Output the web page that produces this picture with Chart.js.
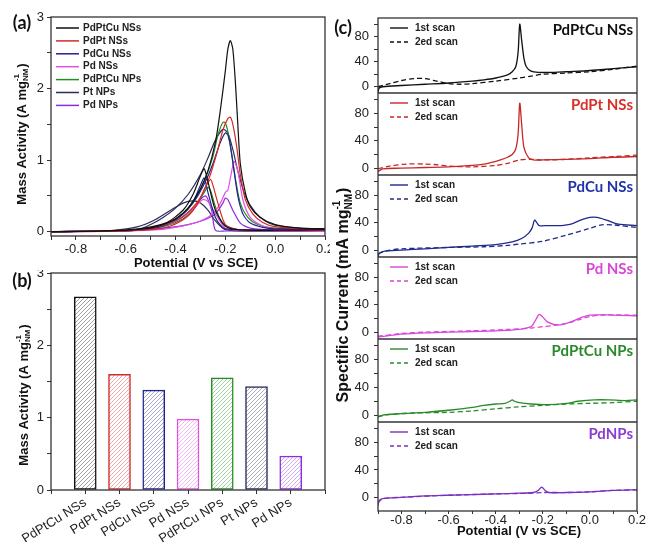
<!DOCTYPE html>
<html>
<head>
<meta charset="utf-8">
<script src="https://cdn.jsdelivr.net/npm/chart.js@4.4.1/dist/chart.umd.min.js"></script>
<style>
  html, body { margin: 0; padding: 0; background: #fff; }
  body { width: 646px; height: 542px; position: relative; overflow: hidden; }
  canvas { position: absolute; }
  #ca { left: 0; top: 0; }
  #cb { left: 0; top: 270px; }
  #cc { left: 330px; top: 0; }
</style>
</head>
<body>
<canvas id="ca" width="330" height="270"></canvas>
<canvas id="cb" width="330" height="272"></canvas>
<canvas id="cc" width="316" height="542"></canvas>
<script>
// ---------- panel (a): CV loops, [potential (V vs SCE), mass activity (A/mg)]
const seriesNames = ['PdPtCu NSs', 'PdPt NSs', 'PdCu NSs', 'Pd NSs', 'PdPtCu NPs', 'Pt NPs', 'Pd NPs'];
const seriesColors = ['#111111', '#d42a2a', '#22228e', '#e052e0', '#1f8f1f', '#2c2c5c', '#8a2be2'];

const pdptcuNSsFwd = [[-0.9,0],[-0.7,0.01],[-0.6,0.02],[-0.5,0.05],[-0.45,0.1],[-0.4,0.18],[-0.35,0.33],[-0.3,0.6],[-0.27,0.85],[-0.24,1.25],[-0.22,1.7],[-0.2,2.25],[-0.19,2.55],[-0.18,2.67],[-0.17,2.55],[-0.16,2.1],[-0.15,1.5],[-0.14,0.95],[-0.12,0.55],[-0.1,0.35],[-0.06,0.2],[0,0.1],[0.1,0.05],[0.2,0.04]];
const pdptcuNSsBwd = [[0.2,0.03],[0,0.02],[-0.15,0.03],[-0.2,0.08],[-0.24,0.3],[-0.27,0.7],[-0.285,0.88],[-0.3,0.78],[-0.33,0.52],[-0.37,0.3],[-0.44,0.12],[-0.55,0.04],[-0.7,0.01],[-0.9,0]];
const pdptNSsFwd = [[-0.9,0],[-0.6,0.01],[-0.5,0.05],[-0.4,0.15],[-0.35,0.27],[-0.3,0.48],[-0.26,0.8],[-0.23,1.15],[-0.21,1.42],[-0.19,1.58],[-0.18,1.6],[-0.17,1.5],[-0.155,1.2],[-0.14,0.8],[-0.12,0.45],[-0.09,0.25],[-0.05,0.13],[0,0.07],[0.1,0.04],[0.2,0.03]];
const pdptNSsBwd = [[0.2,0.02],[-0.15,0.03],[-0.2,0.1],[-0.23,0.4],[-0.25,0.65],[-0.26,0.73],[-0.28,0.62],[-0.31,0.4],[-0.35,0.22],[-0.42,0.08],[-0.5,0.03],[-0.9,0]];
const pdcuNSsFwd = [[-0.9,0],[-0.55,0.02],[-0.45,0.1],[-0.38,0.22],[-0.32,0.45],[-0.28,0.7],[-0.25,0.95],[-0.22,1.25],[-0.2,1.38],[-0.19,1.35],[-0.18,1.2],[-0.165,0.85],[-0.15,0.5],[-0.13,0.25],[-0.1,0.12],[-0.05,0.06],[0,0.04],[0.2,0.04]];
const pdcuNSsBwd = [[0.2,0.04],[-0.2,0.04],[-0.24,0.2],[-0.27,0.55],[-0.285,0.75],[-0.3,0.65],[-0.33,0.42],[-0.38,0.22],[-0.45,0.08],[-0.55,0.02],[-0.9,0]];
const pdNSsFwd = [[-0.9,0],[-0.5,0.02],[-0.4,0.06],[-0.3,0.15],[-0.25,0.25],[-0.22,0.4],[-0.2,0.55],[-0.19,0.58],[-0.18,0.75],[-0.165,0.98],[-0.15,0.85],[-0.13,0.45],[-0.1,0.2],[-0.05,0.08],[0,0.04],[0.2,0.02]];
const pdNSsBwd = [[0.2,0.01],[-0.15,0.02],[-0.2,0.05],[-0.24,0.25],[-0.27,0.42],[-0.29,0.45],[-0.32,0.35],[-0.38,0.18],[-0.45,0.08],[-0.55,0.02],[-0.9,0]];
const pdptcuNPsFwd = [[-0.9,0],[-0.55,0.02],[-0.45,0.1],[-0.38,0.22],[-0.33,0.4],[-0.28,0.75],[-0.25,1.05],[-0.23,1.35],[-0.21,1.53],[-0.2,1.52],[-0.19,1.4],[-0.175,1.1],[-0.16,0.75],[-0.14,0.4],[-0.11,0.2],[-0.07,0.1],[0,0.05],[0.2,0.03]];
const pdptcuNPsBwd = [[0.2,0.02],[-0.15,0.03],[-0.21,0.1],[-0.24,0.35],[-0.26,0.58],[-0.27,0.62],[-0.29,0.52],[-0.32,0.35],[-0.37,0.18],[-0.45,0.07],[-0.55,0.02],[-0.9,0]];
const ptNPsFwd = [[-0.9,0],[-0.65,0.01],[-0.55,0.03],[-0.5,0.1],[-0.45,0.2],[-0.4,0.33],[-0.35,0.52],[-0.3,0.8],[-0.27,1.03],[-0.24,1.28],[-0.21,1.43],[-0.19,1.38],[-0.17,1.15],[-0.15,0.85],[-0.12,0.5],[-0.08,0.27],[-0.04,0.15],[0,0.09],[0.1,0.05],[0.2,0.04]];
const ptNPsBwd = [[0.2,0.02],[0,0.01],[-0.2,0.03],[-0.24,0.15],[-0.27,0.3],[-0.3,0.4],[-0.33,0.43],[-0.37,0.4],[-0.42,0.3],[-0.48,0.17],[-0.55,0.07],[-0.65,0.02],[-0.9,0]];
const pdNPsFwd = [[-0.9,0],[-0.6,0.01],[-0.45,0.05],[-0.35,0.1],[-0.28,0.17],[-0.24,0.25],[-0.21,0.4],[-0.2,0.47],[-0.19,0.45],[-0.17,0.3],[-0.14,0.12],[-0.1,0.05],[0,0.02],[0.2,0.01]];
const pdNPsBwd = [[0.2,0.01],[-0.2,0.01],[-0.24,0.02],[-0.255,0.3],[-0.27,0.45],[-0.28,0.5],[-0.3,0.45],[-0.32,0.35],[-0.4,0.15],[-0.5,0.05],[-0.6,0.02],[-0.9,0]];

const aLoops = [
  [pdptcuNSsFwd, pdptcuNSsBwd], [pdptNSsFwd, pdptNSsBwd], [pdcuNSsFwd, pdcuNSsBwd],
  [pdNSsFwd, pdNSsBwd], [pdptcuNPsFwd, pdptcuNPsBwd], [ptNPsFwd, ptNPsBwd], [pdNPsFwd, pdNPsBwd]
];
const massTicks = [0, 0.5, 1, 1.5, 2, 2.5, 3];

// ---------- panel (b): peak mass activity
const barCategories = seriesNames;
const massActivity = [2.67, 1.60, 1.38, 0.98, 1.55, 1.43, 0.47];

// ---------- panel (c): 1st and 2nd scans, specific current (mA/mg)
const cPanelNames = ['PdPtCu NSs', 'PdPt NSs', 'PdCu NSs', 'Pd NSs', 'PdPtCu NPs', 'PdNPs'];
const cLineColors = ['#111111', '#c62828', '#1f2a8a', '#d946d9', '#2a8a2a', '#7b2fbe'];
const cNameColors = ['#111111', '#d9302a', '#2233aa', '#d946d9', '#2a8a2a', '#8a3fd0'];
const cScanLabels = ['1st scan', '2ed scan'];
const currentTicks = [0, 20, 40, 60, 80, 100];

const scan1PdPtCuNSs = [[-0.9,-9],[-0.895,-2],[-0.88,0],[-0.8,2],[-0.7,4],[-0.6,6],[-0.5,9],[-0.45,11],[-0.4,14],[-0.35,19],[-0.33,24],[-0.315,32],[-0.305,55],[-0.298,100],[-0.29,75],[-0.28,45],[-0.27,32],[-0.25,25],[-0.22,23],[-0.15,23],[-0.1,24],[0,26],[0.1,29],[0.2,32]];
const scan2PdPtCuNSs = [[-0.9,0],[-0.85,5],[-0.8,10],[-0.75,13],[-0.7,13],[-0.65,9],[-0.6,5],[-0.55,4],[-0.5,5],[-0.4,9],[-0.3,14],[-0.25,17],[-0.2,20],[-0.1,22],[0,24],[0.1,28],[0.2,33]];
const scan1PdPtNSs = [[-0.9,-5],[-0.88,-1],[-0.8,0],[-0.7,1],[-0.6,2],[-0.5,4],[-0.45,6],[-0.4,10],[-0.38,12],[-0.35,16],[-0.33,20],[-0.315,28],[-0.305,50],[-0.298,95],[-0.29,65],[-0.28,30],[-0.26,15],[-0.24,12],[-0.2,12],[-0.1,13],[0,14],[0.1,16],[0.2,17]];
const scan2PdPtNSs = [[-0.9,-1],[-0.85,3],[-0.78,6],[-0.7,6],[-0.65,5],[-0.6,3],[-0.5,2],[-0.4,4],[-0.35,7],[-0.3,12],[-0.25,13],[-0.2,12],[-0.1,13],[0,15],[0.1,17],[0.2,19]];
const scan1PdCuNSs = [[-0.9,-10],[-0.895,-5],[-0.88,-2],[-0.8,0],[-0.7,2],[-0.6,4],[-0.5,6],[-0.4,8],[-0.33,12],[-0.29,17],[-0.26,25],[-0.245,33],[-0.235,44],[-0.225,40],[-0.215,36],[-0.18,36],[-0.12,36],[-0.08,38],[-0.04,44],[0,48],[0.03,48],[0.07,44],[0.12,38],[0.2,36]];
const scan2PdCuNSs = [[-0.9,-5],[-0.85,0],[-0.8,2],[-0.6,4],[-0.45,5],[-0.35,7],[-0.3,9],[-0.2,13],[-0.1,22],[0,32],[0.05,37],[0.1,37],[0.2,33]];
const scan1PdNSs = [[-0.9,-7],[-0.8,-3],[-0.7,-1],[-0.6,0],[-0.5,1],[-0.4,2],[-0.3,4],[-0.25,8],[-0.235,15],[-0.215,26],[-0.2,22],[-0.18,15],[-0.15,11],[-0.12,11],[-0.08,15],[-0.04,21],[0,25],[0.1,25],[0.2,24]];
const scan2PdNSs = [[-0.9,-6],[-0.8,-2],[-0.7,0],[-0.5,2],[-0.35,4],[-0.25,6],[-0.2,8],[-0.15,10],[-0.1,13],[-0.05,18],[0,23],[0.05,25],[0.2,25]];
const scan1PdPtCuNPs = [[-0.9,-3],[-0.88,0],[-0.8,2],[-0.7,4],[-0.6,7],[-0.5,11],[-0.45,14],[-0.4,16],[-0.36,17],[-0.34,20],[-0.33,22],[-0.32,20],[-0.3,18],[-0.25,16],[-0.18,15],[-0.1,17],[-0.05,20],[0.02,22],[0.08,22],[0.15,21],[0.2,22]];
const scan2PdPtCuNPs = [[-0.9,-2],[-0.85,1],[-0.75,3],[-0.6,4],[-0.5,6],[-0.4,9],[-0.3,12],[-0.2,14],[-0.1,16],[0,17],[0.1,18],[0.2,20]];
const scan1PdNPs = [[-0.9,-12],[-0.895,-5],[-0.88,-2],[-0.8,0],[-0.7,2],[-0.6,3],[-0.5,4],[-0.4,5],[-0.3,6],[-0.24,7],[-0.22,10],[-0.205,15],[-0.19,10],[-0.175,7],[-0.1,7],[0,8],[0.1,10],[0.2,11]];
const scan2PdNPs = [[-0.9,-8],[-0.88,-2],[-0.8,0],[-0.6,3],[-0.4,5],[-0.25,6],[-0.2,7],[-0.1,7],[0,8],[0.1,10],[0.2,11]];

const cScans = [
  [scan1PdPtCuNSs, scan2PdPtCuNSs], [scan1PdPtNSs, scan2PdPtNSs], [scan1PdCuNSs, scan2PdCuNSs],
  [scan1PdNSs, scan2PdNSs], [scan1PdPtCuNPs, scan2PdPtCuNPs], [scan1PdNPs, scan2PdNPs]
];
const cPanelWeights = [75, 82, 82, 82, 83, 89];
const cPanelMin = [-10, -10, -10, -10, -10, -20];

// ---------- shared helpers
const sans = '"Liberation Sans", Arial, sans-serif';
Chart.defaults.font.family = sans;
Chart.defaults.font.size = 13;
Chart.defaults.color = '#222';

const toXY = pts => pts.map(p => ({ x: p[0], y: p[1] }));
const axisColor = '#333';

function potentialLabel(v) {
  const k = Math.round(v * 10);
  return k % 2 === 0 ? (k / 10).toFixed(1) : '';
}
function noPad(s) { s.paddingLeft = 0; s.paddingRight = 0; s.paddingTop = 0; s.paddingBottom = 0; }
function fixedTicks(values) { return s => { s.ticks = values.map(v => ({ value: v })); }; }

function hatch(color) {
  const c = document.createElement('canvas');
  c.width = 4; c.height = 4;
  const g = c.getContext('2d');
  g.fillStyle = '#fff';
  g.fillRect(0, 0, 4, 4);
  g.strokeStyle = color;
  g.globalAlpha = 0.5;
  g.lineWidth = 0.8;
  g.beginPath();
  g.moveTo(0, 4); g.lineTo(4, 0);
  g.moveTo(-1, 1); g.lineTo(1, -1);
  g.moveTo(3, 5); g.lineTo(5, 3);
  g.stroke();
  return g.createPattern(c, 'repeat');
}

// box round the plot, plus separators between stacked panels
const framePlugin = {
  id: 'frame',
  afterDatasetsDraw(chart) {
    const { ctx, chartArea: a } = chart;
    ctx.save();
    ctx.strokeStyle = axisColor;
    ctx.lineWidth = 1.3;
    ctx.strokeRect(a.left, a.top, a.width, a.height);
    Object.values(chart.scales).forEach(s => {
      if (s.axis === 'y' && s.options.stack && s.bottom < a.bottom - 1) {
        ctx.beginPath();
        ctx.moveTo(a.left, s.bottom);
        ctx.lineTo(a.right, s.bottom);
        ctx.stroke();
      }
    });
    ctx.restore();
  }
};

// text with a stacked superscript/subscript pair, e.g. mg^-1_NM
function drawRich(ctx, it) {
  ctx.save();
  ctx.translate(it.x, it.y);
  if (it.rot) ctx.rotate(it.rot);
  ctx.fillStyle = it.color || '#111';
  ctx.textBaseline = 'middle';
  ctx.textAlign = 'left';
  const fam = it.family || sans;
  const big = 'bold ' + it.size + 'px ' + fam;
  const small = 'bold ' + Math.round(it.size * 0.62) + 'px ' + sans;
  const widths = it.parts.map(p => {
    if (typeof p === 'string') { ctx.font = big; return ctx.measureText(p).width; }
    ctx.font = small;
    return Math.max(ctx.measureText(p[0]).width, ctx.measureText(p[1]).width) + 1;
  });
  let x = -widths.reduce((s, w) => s + w, 0) / 2;
  it.parts.forEach((p, i) => {
    if (typeof p === 'string') {
      ctx.font = big;
      ctx.fillText(p, x, 0);
    } else {
      ctx.font = small;
      ctx.fillText(p[0], x, -it.size * 0.4);
      ctx.fillText(p[1], x, it.size * 0.32);
    }
    x += widths[i];
  });
  ctx.restore();
}
function textPlugin(items) {
  return { id: 'texts', afterDraw(chart) { items.forEach(it => drawRich(chart.ctx, it)); } };
}

// ---------- chart (a)
const aDatasets = [];
aLoops.forEach((loop, i) => {
  loop.forEach(part => {
    aDatasets.push({
      label: seriesNames[i],
      data: toXY(part),
      borderColor: seriesColors[i],
      borderWidth: 1.2,
      pointRadius: 0,
      tension: 0.25,
      fill: false
    });
  });
});

const aLegend = {
  id: 'aLegend',
  afterDatasetsDraw(chart) {
    const ctx = chart.ctx;
    ctx.save();
    ctx.font = 'bold 10px ' + sans;
    ctx.textBaseline = 'middle';
    seriesNames.forEach((name, i) => {
      const y = 28 + i * 12.9;
      ctx.strokeStyle = seriesColors[i];
      ctx.lineWidth = 1.5;
      ctx.beginPath(); ctx.moveTo(56, y); ctx.lineTo(79, y); ctx.stroke();
      ctx.fillStyle = '#222';
      ctx.fillText(name, 83, y);
    });
    ctx.restore();
  }
};

new Chart(document.getElementById('ca'), {
  type: 'line',
  data: { datasets: aDatasets },
  options: {
    responsive: false,
    animation: false,
    layout: { padding: { left: 0, right: 5, top: 17, bottom: 0 } },
    plugins: { legend: { display: false }, tooltip: { enabled: false } },
    scales: {
      x: {
        type: 'linear', min: -0.9, max: 0.2,
        ticks: { stepSize: 0.1, callback: potentialLabel, autoSkip: false, maxRotation: 0, padding: 2, color: '#222' },
        grid: { drawOnChartArea: false, tickLength: 4, tickColor: axisColor },
        border: { display: false },
        afterFit: s => { s.height = 34; noPad(s); }
      },
      y: {
        min: -0.06, max: 3,
        afterBuildTicks: fixedTicks(massTicks),
        ticks: { autoSkip: false, callback: v => (Number.isInteger(v) ? String(v) : ''), padding: 3, color: '#222' },
        grid: { drawOnChartArea: false, tickLength: 4, tickColor: axisColor },
        border: { display: false },
        afterFit: s => { s.width = 51; noPad(s); }
      }
    }
  },
  plugins: [framePlugin, aLegend, textPlugin([
    { parts: ['(a)'], x: 22, y: 23, size: 18, family: 'Lato, ' + sans },
    { parts: ['Mass Activity (A mg', ['-1', 'NM'], ')'], x: 22, y: 134, rot: -Math.PI / 2, size: 13 },
    { parts: ['Potential (V vs SCE)'], x: 196, y: 263, size: 13 }
  ])]
});

// ---------- chart (b)
new Chart(document.getElementById('cb'), {
  type: 'bar',
  data: {
    labels: ['', ...barCategories, ''],
    datasets: [{
      data: [null, ...massActivity, null],
      backgroundColor: ['#fff', ...seriesColors.map(hatch), '#fff'],
      borderColor: ['#fff', ...seriesColors, '#fff'],
      borderWidth: 1.5,
      borderSkipped: false,
      barThickness: 22
    }]
  },
  options: {
    responsive: false,
    animation: false,
    layout: { padding: { left: 0, right: 5, top: 3, bottom: 0 } },
    plugins: { legend: { display: false }, tooltip: { enabled: false } },
    scales: {
      x: {
        type: 'category', offset: false,
        ticks: { autoSkip: false, minRotation: 32, maxRotation: 32, padding: 1, color: '#222' },
        grid: { offset: false, drawOnChartArea: false, tickLength: 4, tickColor: axisColor },
        border: { display: false },
        afterFit: s => { s.height = 52; noPad(s); }
      },
      y: {
        min: 0, max: 3,
        afterBuildTicks: fixedTicks(massTicks),
        ticks: { autoSkip: false, callback: v => (Number.isInteger(v) ? String(v) : ''), padding: 3, color: '#222' },
        grid: { drawOnChartArea: false, tickLength: 4, tickColor: axisColor },
        border: { display: false },
        afterFit: s => { s.width = 51; noPad(s); }
      }
    }
  },
  plugins: [framePlugin, textPlugin([
    { parts: ['(b)'], x: 22, y: 11, size: 18, family: 'Lato, ' + sans },
    { parts: ['Mass Activity (A mg', ['-1', 'NM'], ')'], x: 24, y: 125, rot: -Math.PI / 2, size: 13 }
  ])]
});

// ---------- chart (c): six panels stacked on one x axis
const cDatasets = [];
const cScales = {
  x: {
    type: 'linear', min: -0.9, max: 0.2,
    ticks: { stepSize: 0.1, callback: potentialLabel, autoSkip: false, maxRotation: 0, padding: -1, color: '#222' },
    grid: { drawOnChartArea: false, tickLength: 3, tickColor: axisColor },
    border: { display: false },
    afterFit: s => { s.height = 31; noPad(s); }
  }
};
cScans.forEach((pair, i) => {
  const id = 'y' + (i + 1);
  pair.forEach((scan, k) => {
    cDatasets.push({
      label: cScanLabels[k],
      data: toXY(scan),
      yAxisID: id,
      borderColor: cLineColors[i],
      borderWidth: 1.3,
      borderDash: k === 1 ? [5, 3] : [],
      pointRadius: 0,
      tension: 0.3,
      fill: false
    });
  });
  cScales[id] = {
    type: 'linear', position: 'left',
    stack: 'c', stackWeight: cPanelWeights[i], weight: 6 - i,
    min: cPanelMin[i], max: 110,
    afterBuildTicks: fixedTicks(currentTicks),
    ticks: { autoSkip: false, callback: v => (v % 40 === 0 ? String(v) : ''), padding: 5, color: '#222' },
    grid: { drawOnChartArea: false, tickLength: 4, tickColor: axisColor },
    border: { display: false },
    afterFit: s => { s.width = 48; noPad(s); }
  };
});

const cPanelText = {
  id: 'cPanelText',
  afterDatasetsDraw(chart) {
    const { ctx, chartArea: a } = chart;
    ctx.save();
    ctx.textBaseline = 'middle';
    cPanelNames.forEach((name, i) => {
      const s = chart.scales['y' + (i + 1)];
      // panel name, top right
      ctx.font = 'bold 15px Lato, ' + sans;
      ctx.textAlign = 'right';
      ctx.fillStyle = cNameColors[i];
      ctx.fillText(name, a.right - 4, s.top + 12);
      // scan legend, top left
      ctx.font = 'bold 10px ' + sans;
      ctx.textAlign = 'left';
      cScanLabels.forEach((lab, k) => {
        const y = s.top + 10 + k * 14;
        ctx.strokeStyle = cLineColors[i];
        ctx.lineWidth = 1.4;
        ctx.setLineDash(k === 1 ? [4, 3] : []);
        ctx.beginPath(); ctx.moveTo(a.left + 12, y); ctx.lineTo(a.left + 30, y); ctx.stroke();
        ctx.fillStyle = '#222';
        ctx.fillText(lab, a.left + 37, y);
      });
      ctx.setLineDash([]);
    });
    ctx.restore();
  }
};

new Chart(document.getElementById('cc'), {
  type: 'line',
  data: { datasets: cDatasets },
  options: {
    responsive: false,
    animation: false,
    layout: { padding: { left: 0, right: 9, top: 18, bottom: 0 } },
    plugins: { legend: { display: false }, tooltip: { enabled: false } },
    scales: cScales
  },
  plugins: [framePlugin, cPanelText, textPlugin([
    { parts: ['(c)'], x: 13, y: 28, size: 18, family: 'Lato, ' + sans },
    { parts: ['Spectific Current (mA mg', ['-1', 'NM'], ')'], x: 14, y: 295, rot: -Math.PI / 2, size: 16 },
    { parts: ['Potential (V vs SCE)'], x: 189, y: 531, size: 13 }
  ])]
});
</script>
</body>
</html>
